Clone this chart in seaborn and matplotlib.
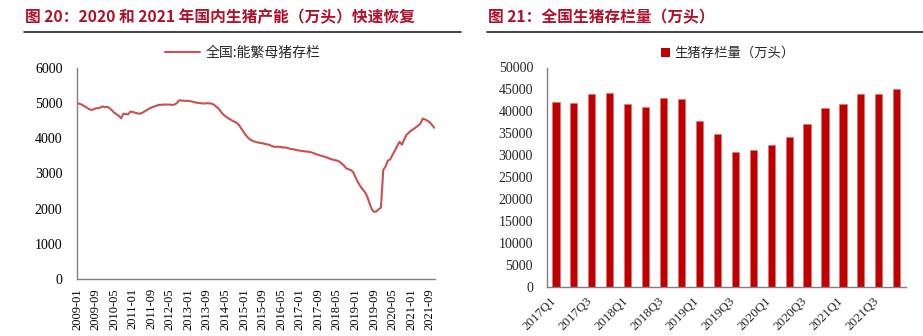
import numpy as np
import pandas as pd
import matplotlib
matplotlib.use("Agg")
import matplotlib.pyplot as plt
import matplotlib.transforms as mtransforms
import seaborn as sns
from matplotlib.lines import Line2D
from matplotlib.patches import Patch

# ---------------- data ----------------
sow_2009 = [5000, 4985, 4960, 4920, 4880, 4840, 4810, 4820, 4850, 4860, 4870, 4910]
sow_2010 = [4880, 4900, 4860, 4800, 4730, 4690, 4640, 4570, 4700, 4690, 4680, 4760]
sow_2011 = [4750, 4730, 4710, 4700, 4720, 4760, 4800, 4840, 4870, 4900, 4920, 4945]
sow_2012 = [4950, 4960, 4960, 4960, 4960, 4950, 4960, 5000, 5080, 5075, 5070, 5065]
sow_2013 = [5065, 5055, 5040, 5020, 5010, 5000, 4995, 4990, 5000, 4995, 4985, 4960]
sow_2014 = [4900, 4850, 4760, 4680, 4630, 4580, 4540, 4500, 4470, 4430, 4360, 4260]
sow_2015 = [4160, 4070, 4000, 3950, 3920, 3900, 3880, 3870, 3860, 3840, 3830, 3810]
sow_2016 = [3780, 3760, 3760, 3760, 3750, 3740, 3740, 3720, 3700, 3690, 3680, 3660]
sow_2017 = [3650, 3640, 3630, 3625, 3615, 3600, 3580, 3550, 3530, 3510, 3490, 3470]
sow_2018 = [3450, 3420, 3400, 3380, 3370, 3340, 3290, 3230, 3150, 3120, 3100, 3040]
sow_2019 = [2900, 2760, 2650, 2560, 2480, 2360, 2170, 1990, 1910, 1920, 1980, 2030]
sow_2020 = [3100, 3200, 3370, 3400, 3530, 3650, 3780, 3900, 3820, 3960, 4100, 4160]
sow_2021 = [4220, 4260, 4310, 4360, 4420, 4560, 4540, 4500, 4460, 4380, 4300]

line_ticklabels = ["2009-01", "2009-09", "2010-05", "2011-01", "2011-09", "2012-05",
                   "2013-01", "2013-09", "2014-05", "2015-01", "2015-09", "2016-05",
                   "2017-01", "2017-09", "2018-05", "2019-01", "2019-09", "2020-05",
                   "2021-01", "2021-09"]

quarters = [f"{y}Q{q}" for y in range(2017, 2022) for q in range(1, 5)]
hog_stock = [42100, 41800, 44000, 44200, 41600, 41000, 43000, 42900, 37700, 34900,
             30800, 31100, 32200, 34100, 37100, 40800, 41700, 44000, 43900, 45000]

title_left = "图 20：2020 和 2021 年国内生猪产能（万头）快速恢复"
title_right = "图 21：全国生猪存栏量（万头）"
legend_left = "全国:能繁母猪存栏"
legend_right = "生猪存栏量（万头）"

# ---------------- style ----------------
sns.set_theme(style="white")
plt.rcParams["font.family"] = ["Liberation Serif", "Noto Sans CJK SC", "DejaVu Sans"]
cjk = ["Noto Sans CJK SC", "DejaVu Sans"]
serif = ["Liberation Serif", "DejaVu Serif"]

W, H = 923, 336
fig = plt.figure(figsize=(W / 100, H / 100), dpi=100)

def fx(px):
    return px / W

def fy(py):
    return 1 - py / H

title_color = "#B0102A"
spine_color = "#808080"

# titles and rules
fig.text(fx(25), fy(17), title_left, family=cjk, fontsize=11.3, fontweight="bold",
         color=title_color, va="center", ha="left")
fig.text(fx(488), fy(17), title_right, family=cjk, fontsize=11.3, fontweight="bold",
         color=title_color, va="center", ha="left")
fig.add_artist(Line2D([fx(24), fx(461)], [fy(31.7), fy(31.7)], color="#222222", lw=1.2))
fig.add_artist(Line2D([fx(487), fx(923)], [fy(31.7), fy(31.7)], color="#222222", lw=1.2))

# ---------------- left: line ----------------
sow = (sow_2009 + sow_2010 + sow_2011 + sow_2012 + sow_2013 + sow_2014 + sow_2015
       + sow_2016 + sow_2017 + sow_2018 + sow_2019 + sow_2020 + sow_2021)
df_line = pd.DataFrame({"m": np.arange(len(sow)), "v": sow})

ax1 = fig.add_axes([fx(77), fy(279), fx(435 - 77), (279 - 68) / H])
sns.lineplot(data=df_line, x="m", y="v", ax=ax1, color="#C9504F", linewidth=1.5,
             label=legend_left)
ax1.set_xlim(0, 154.3)
ax1.set_ylim(0, 6000)
ax1.set_yticks(range(0, 6001, 1000))
ax1.set_xticks(range(0, 153, 8))
ax1.set_xticklabels(line_ticklabels, rotation=90)
ax1.set_xlabel("")
ax1.set_ylabel("")
for s in ["top", "right"]:
    ax1.spines[s].set_visible(False)
for s in ["left", "bottom"]:
    ax1.spines[s].set_color(spine_color)
    ax1.spines[s].set_linewidth(1.0)
ax1.tick_params(axis="both", which="major", direction="out", length=4.5, width=0.8,
                color=spine_color, colors="#000000")
ax1.tick_params(axis="both", color=spine_color)
ax1.tick_params(axis="x", labelsize=9, pad=2)
ax1.tick_params(axis="y", labelsize=10, pad=6)
for lab in ax1.get_xticklabels() + ax1.get_yticklabels():
    lab.set_fontfamily(serif)
ax1.legend(loc="center", bbox_to_anchor=(fx(243), fy(53)), bbox_transform=fig.transFigure,
           frameon=False, handlelength=2.5, handletextpad=0.4, prop={"family": cjk, "size": 10})

# ---------------- right: bars ----------------
df_bar = pd.DataFrame({"q": quarters, "v": hog_stock})
ax2 = fig.add_axes([fx(547), fy(286.5), fx(905.7 - 547), (286.5 - 67.5) / H])
sns.barplot(data=df_bar, x="q", y="v", ax=ax2, color="#C00000", width=0.4,
            edgecolor="#E07070", linewidth=0.4, saturation=1)
ax2.set_xlim(-0.5, 19.5)
ax2.set_ylim(0, 50000)
ax2.set_yticks(range(0, 50001, 5000))
ax2.set_xticks(range(0, 20, 2))
ax2.set_xticklabels(quarters[::2], rotation=45, ha="right", rotation_mode="anchor")
ax2.set_xticks(np.arange(-0.5, 19.6, 1.0), minor=True)
ax2.set_xlabel("")
ax2.set_ylabel("")
for s in ["top", "right"]:
    ax2.spines[s].set_visible(False)
for s in ["left", "bottom"]:
    ax2.spines[s].set_color(spine_color)
    ax2.spines[s].set_linewidth(1.0)
ax2.tick_params(axis="x", which="major", length=0, pad=6, labelsize=9.3)
ax2.tick_params(axis="x", which="minor", direction="out", length=4, width=0.8,
                color=spine_color)
ax2.tick_params(axis="y", which="major", direction="out", length=4, width=0.8,
                color=spine_color, labelsize=10, pad=6)
shift = mtransforms.ScaledTranslation(-6 / 100, 0, fig.dpi_scale_trans)
for lab in ax2.get_xticklabels():
    lab.set_fontfamily(serif)
    lab.set_transform(lab.get_transform() + shift)
for lab in ax2.get_yticklabels():
    lab.set_fontfamily(serif)
handles = [Patch(facecolor="#C00000", edgecolor="none")]
ax2.legend(handles, [legend_right], loc="center", bbox_to_anchor=(fx(728), fy(53)),
           bbox_transform=fig.transFigure, frameon=False, handlelength=0.7,
           handleheight=0.7, handletextpad=0.3, prop={"family": cjk, "size": 9.6})

fig.savefig("out.png", dpi=100)
